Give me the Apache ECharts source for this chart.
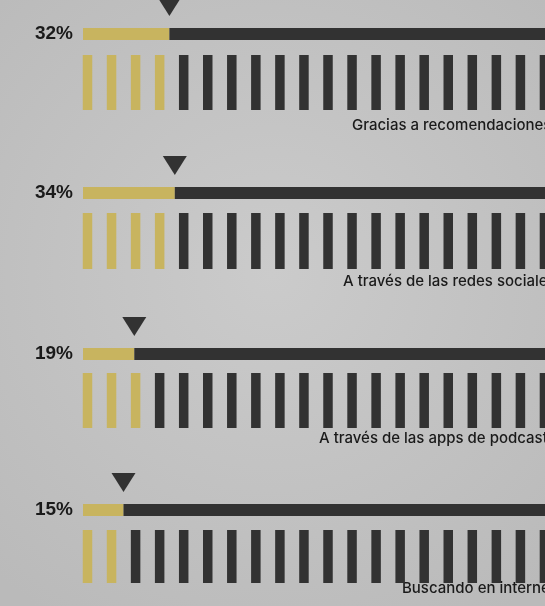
<!DOCTYPE html>
<html>
<head>
<meta charset="utf-8">
<script src="https://cdn.jsdelivr.net/npm/echarts@6/dist/echarts.min.js"></script>
<style>
html,body{margin:0;padding:0;background:#c6c6c6;}
#chart{width:545px;height:606px;}
</style>
</head>
<body>
<div id="chart"></div>
<script>
// ---- data ----
const categories = ['Gracias a recomendaciones', 'A través de las redes sociales', 'A través de las apps de podcast', 'Buscando en internet'];
const percentValues = [32, 34, 19, 15];
const percentLabels = ['32%', '34%', '19%', '15%'];
const goldTickCounts = [4, 4, 3, 2];
const tickCount = 22;
const scaleMax = 200;

// ---- layout / style ----
const GOLD = '#c8b45f';
const DARK = '#323232';
const barCenters = [34, 193, 354, 510];
const tickTops = [55, 213, 373, 530];
const tickHeights = [55, 56, 55, 53];
const captionPos = [[352, 127], [343, 283], [319, 440], [402, 590]];
const barLeft = 83, barWidthPx = 540, barThick = 12;
const tickPitch = 24.05, tickFirstCenter = 87.5, tickW = 9.5;

const grid = [], xAxis = [], yAxis = [], series = [], graphic = [];
categories.forEach((cat, i) => {
  const gA = grid.length;
  grid.push({left: barLeft, width: barWidthPx, top: barCenters[i] - barThick / 2, height: barThick,
    containLabel: false, outerBoundsMode: 'none'});
  xAxis.push({type: 'value', gridIndex: gA, min: 0, max: scaleMax, show: false});
  yAxis.push({type: 'category', gridIndex: gA, data: [percentLabels[i]],
    axisLine: {show: false}, axisTick: {show: false}, splitLine: {show: false},
    axisLabel: {margin: 10, fontFamily: 'Liberation Sans', fontWeight: 'bold', fontSize: 19, color: '#1a1a1a',
      padding: [0, 0, 3, 0]}});
  series.push({type: 'bar', xAxisIndex: gA, yAxisIndex: gA, stack: 's' + i, barWidth: barThick,
    data: [percentValues[i]], itemStyle: {color: GOLD}, silent: true});
  series.push({type: 'bar', xAxisIndex: gA, yAxisIndex: gA, stack: 's' + i, barWidth: barThick,
    data: [scaleMax - percentValues[i]], itemStyle: {color: DARK}, silent: true});
  series.push({type: 'scatter', xAxisIndex: gA, yAxisIndex: gA, symbol: 'triangle', symbolRotate: 180,
    symbolSize: [24, 19], symbolOffset: [0, -(barThick / 2 + 12 + 9.5)],
    data: [[percentValues[i], 0]], itemStyle: {color: DARK, opacity: 1}, z: 5, silent: true});

  const gB = grid.length;
  const bandStart = tickFirstCenter - tickPitch / 2;
  grid.push({left: bandStart, width: tickPitch * tickCount, top: tickTops[i], height: tickHeights[i],
    containLabel: false, outerBoundsMode: 'none'});
  const cats = [];
  for (let k = 0; k < tickCount; k++) cats.push(String(k + 1));
  xAxis.push({type: 'category', gridIndex: gB, data: cats, show: false});
  yAxis.push({type: 'value', gridIndex: gB, min: 0, max: 1, show: false});
  series.push({type: 'bar', xAxisIndex: gB, yAxisIndex: gB, barWidth: tickW, silent: true,
    data: cats.map((c, k) => ({value: 1, itemStyle: {color: k < goldTickCounts[i] ? GOLD : DARK}}))});

  graphic.push({type: 'text', left: captionPos[i][0], top: captionPos[i][1] - 9,
    style: {text: cat, fontFamily: 'Inter', fontWeight: 500, fontSize: 15, fill: '#1a1a1a'}});
});

const chart = echarts.init(document.getElementById('chart'));
chart.setOption({
  animation: false,
  backgroundColor: {type: 'radial', x: 0.5, y: 0.45, r: 0.75,
    colorStops: [{offset: 0, color: '#cbcbcb'}, {offset: 1, color: '#bababa'}]},
  grid, xAxis, yAxis, series, graphic
});
</script>
</body>
</html>
